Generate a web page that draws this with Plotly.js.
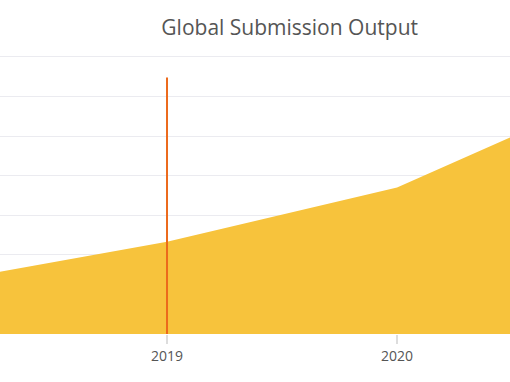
<!DOCTYPE html>
<html>
<head>
<meta charset="utf-8">
<script src="https://cdn.plot.ly/plotly-3.0.1.min.js"></script>
<style>html,body{margin:0;padding:0;background:#fff;}#chart{width:510px;height:382px;}</style>
</head>
<body>
<div id="chart"></div>
<script>
// Data
const years = [2018, 2019, 2020, 2021];
const output = [1.29, 2.33, 3.70, 6.27];
const markerYear = [2019, 2019];
const markerSpan = [0, 6.48];
const tickYears = [2019, 2020];
const tickLabels = ['2019', '2020'];

const traces = [
  {
    x: years, y: output, type: 'scatter', mode: 'lines',
    fill: 'tozeroy', fillcolor: '#F7C33C',
    line: {color: '#F7C33C', width: 0},
    hoverinfo: 'skip', showlegend: false
  },
  {
    x: markerYear, y: markerSpan, type: 'scatter', mode: 'lines',
    line: {color: '#EC6A1C', width: 2},
    hoverinfo: 'skip', showlegend: false
  }
];

const layout = {
  width: 510, height: 382,
  margin: {l: 0, r: 0, t: 49, b: 48, pad: 0},
  paper_bgcolor: '#ffffff', plot_bgcolor: '#ffffff',
  font: {family: '"Open Sans", sans-serif', color: '#555555'},
  title: {
    text: 'Global Submission Output',
    font: {family: '"Open Sans", sans-serif', size: 21, color: '#555555'},
    x: 0.568, xanchor: 'center', xref: 'paper',
    y: 1 - 28/382, yanchor: 'middle', yref: 'container'
  },
  showlegend: false,
  xaxis: {
    range: [2018.274, 2020.491],
    tickmode: 'array', tickvals: tickYears, ticktext: tickLabels,
    ticks: 'outside', ticklen: 9, tickwidth: 2, tickcolor: '#dddddd',
    tickfont: {family: '"Open Sans", sans-serif', size: 14, color: '#555555'},
    showgrid: false, zeroline: false, showline: false, fixedrange: true
  },
  yaxis: {
    range: [0, 7.2], dtick: 1, tick0: 0,
    showticklabels: false, ticks: '',
    showgrid: true, gridcolor: '#ebebf0', gridwidth: 1,
    zeroline: false, showline: false, fixedrange: true
  }
};

Plotly.newPlot('chart', traces, layout, {displayModeBar: false, staticPlot: true});
</script>
</body>
</html>
